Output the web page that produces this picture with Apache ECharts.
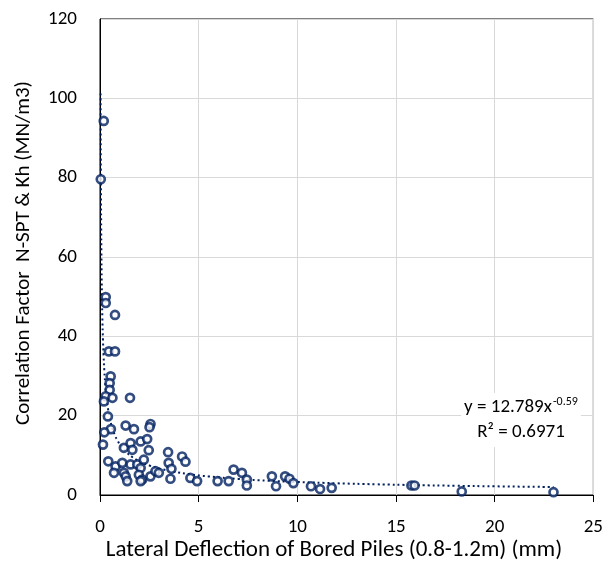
<!DOCTYPE html>
<html><head><meta charset="utf-8">
<script src="https://cdn.jsdelivr.net/npm/echarts@6/dist/echarts.min.js"></script>
<style>html,body{margin:0;padding:0;background:#fff}#c{width:606px;height:568px}</style>
</head><body><div id="c"></div>
<script>
const deflection = [0.19,0.04,0.29,0.29,0.76,0.45,0.76,0.54,0.49,0.49,0.29,0.63,0.20,1.52,0.40,0.55,0.22,0.15,1.30,1.72,2.56,2.51,1.21,1.55,1.64,2.06,2.39,2.47,0.42,0.79,1.13,1.55,1.89,2.22,0.71,1.21,1.30,1.38,2.06,1.97,2.14,2.56,2.81,2.98,2.06,3.45,3.48,3.62,3.57,4.16,4.33,4.58,4.92,5.96,6.52,6.77,7.19,7.44,7.44,8.71,8.92,9.38,9.60,9.80,10.69,11.15,11.74,15.78,15.94,18.33,22.98];
const correlation = [94.3,79.6,49.9,48.4,45.4,36.2,36.2,29.9,28.2,26.5,24.9,24.5,23.6,24.5,19.8,16.6,15.8,12.7,17.5,16.6,17.9,17.1,11.9,13.1,11.4,13.5,14.1,11.3,8.5,7.2,8.1,7.7,7.7,8.9,5.6,5.6,4.7,3.5,6.8,5.1,3.9,4.7,6.0,5.6,3.5,10.8,8.1,6.6,4.1,9.7,8.4,4.3,3.5,3.5,3.5,6.4,5.6,3.9,2.4,4.7,2.2,4.7,4.1,3.0,2.2,1.5,1.8,2.4,2.4,0.9,0.7];
// Power trendline shown on the chart: y = 12.789 x^-0.59
const trendA = 12.789, trendB = -0.59;
const trendX = [0.03,0.035,0.04,0.05,0.06,0.07,0.085,0.1,0.12,0.15,0.18,0.22,0.27,0.33,0.4,0.5,0.6,0.75,0.9,1.1,1.35,1.65,2,2.5,3,3.7,4.5,5.5,7,8.5,10,12,14,16,18,20,22.98];
const xTicks = [0,5,10,15,20,25];
const yTicks = [0,20,40,60,80,100,120];
const xTitle = 'Lateral Deflection of Bored Piles (0.8-1.2m) (mm)';
const yTitle = 'Correlation Factor  N-SPT & Kh (MN/m3)';
const eqLine1 = 'y = 12.789x';
const eqExp = '-0.59';
const eqLine2 = 'R² = 0.6971';

const FONT = 'Carlito, Lato, sans-serif';
const navy = '#002060';
const points = deflection.map((x, i) => [x, correlation[i]]);
const trend = trendX.map(x => [x, trendA * Math.pow(x, trendB)]);

const chart = echarts.init(document.getElementById('c'), null, {renderer: 'canvas'});
chart.setOption({
  animation: false,
  backgroundColor: '#fff',
  grid: {left: 100, right: 12, top: 19, bottom: 73, show: true, borderColor: '#000', borderWidth: 1, containLabel: false},
  xAxis: {
    type: 'value', min: xTicks[0], max: xTicks[xTicks.length - 1], interval: 5,
    axisLine: {show: true, lineStyle: {color: '#000', width: 1}},
    axisTick: {show: true, length: 7, lineStyle: {color: '#000'}},
    axisLabel: {color: '#000', fontSize: 19, fontFamily: FONT, margin: 23},
    splitLine: {show: true, lineStyle: {color: '#d9d9d9', width: 1}}
  },
  yAxis: {
    type: 'value', min: yTicks[0], max: yTicks[yTicks.length - 1], interval: 20,
    axisLine: {show: true, lineStyle: {color: '#000', width: 1}},
    axisTick: {show: false},
    axisLabel: {color: '#000', fontSize: 19, fontFamily: FONT, margin: 23},
    splitLine: {show: true, lineStyle: {color: '#d9d9d9', width: 1}}
  },
  series: [
    {
      type: 'line', data: trend, showSymbol: false, symbol: 'none', smooth: true, clip: true,
      lineStyle: {color: navy, width: 2, type: [2, 3]}, z: 2
    },
    {
      type: 'scatter', data: points, symbol: 'circle', symbolSize: 8,
      itemStyle: {color: '#fff', borderColor: navy, borderWidth: 2.7}, z: 3
    }
  ],
  graphic: [
    {type: 'text', x: 334, y: 550, style: {text: xTitle, font: '23px ' + FONT, fill: '#000', align: 'center', verticalAlign: 'middle'}},
    {type: 'text', x: 24, y: 253, rotation: Math.PI / 2, style: {text: yTitle, font: '21px ' + FONT, fill: '#000', align: 'center', verticalAlign: 'middle'}},
    {type: 'text', x: 521, y: 420, z: 10, style: {
      text: '{a|' + eqLine1 + '}{s|' + eqExp + '}\n{a|' + eqLine2 + '}',
      rich: {
        a: {fontSize: 19, fontFamily: FONT, fill: '#000', lineHeight: 25},
        s: {fontSize: 12, fontFamily: FONT, fill: '#000', lineHeight: 25, padding: [0, 0, 11, 1]}
      },
      align: 'center', verticalAlign: 'middle', backgroundColor: '#fff', padding: [2, 3]
    }}
  ]
});
</script>
</body></html>
